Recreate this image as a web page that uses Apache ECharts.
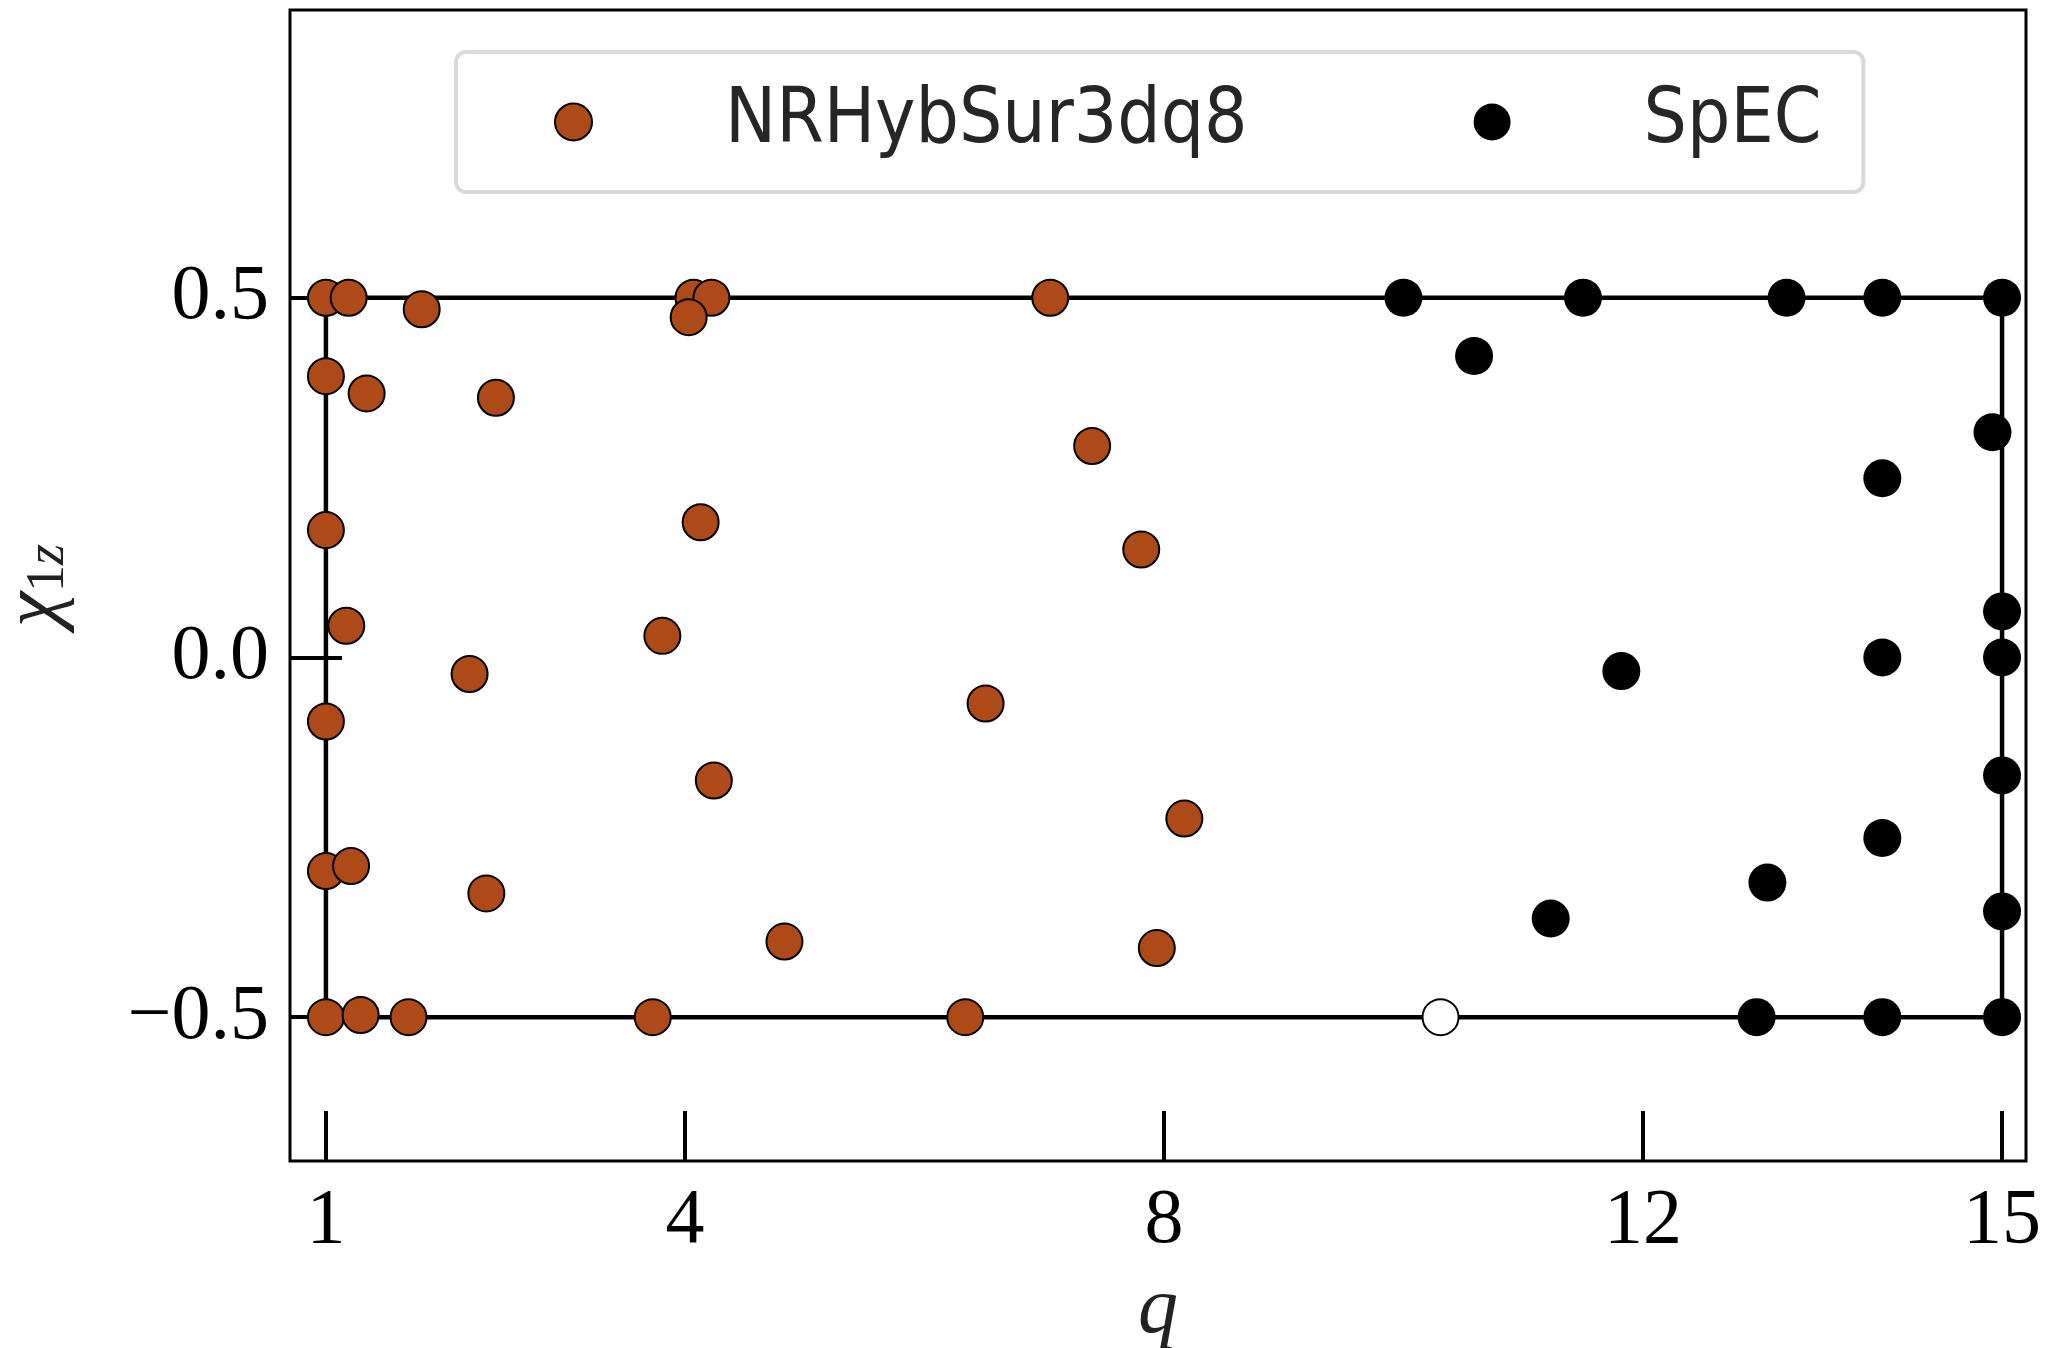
<!DOCTYPE html>
<html>
<head>
<meta charset="utf-8">
<script src="https://cdn.jsdelivr.net/npm/echarts@6/dist/echarts.min.js"></script>
<style>
  html, body { margin: 0; padding: 0; background: #fff; }
  #main { width: 2058px; height: 1348px; }
</style>
</head>
<body>
<div id="main"></div>
<script>
// NRHybSur3dq8 points [q, chi1z]
var nrhybPoints = [
    [1.0, 0.5], [1.19, 0.5], [1.80, 0.484], [1.0, 0.391], [1.34, 0.367], [2.42, 0.361],
    [1.0, 0.177], [1.17, 0.044], [2.20, -0.023], [1.0, -0.089], [1.0, -0.297], [1.21, -0.290],
    [2.34, -0.328], [1.0, -0.5], [1.29, -0.497], [1.69, -0.5],
    [4.07, 0.5], [4.22, 0.5], [4.03, 0.473], [7.05, 0.5], [7.40, 0.294], [4.13, 0.188],
    [7.81, 0.150], [3.81, 0.030], [6.51, -0.064], [4.24, -0.171], [8.17, -0.224],
    [4.83, -0.395], [7.94, -0.404], [3.73, -0.5], [6.34, -0.5]
];
// SpEC points
var specPoints = [
    [10.0, 0.5], [11.5, 0.5], [13.2, 0.5], [14.0, 0.5], [15.0, 0.5], [10.59, 0.419],
    [14.92, 0.313], [14.0, 0.249], [15.0, 0.064], [11.82, -0.019], [14.0, 0.0], [15.0, 0.0],
    [15.0, -0.164], [14.0, -0.251], [13.04, -0.313], [11.23, -0.363], [15.0, -0.353],
    [12.95, -0.5], [14.0, -0.5], [15.0, -0.5]
];
// open (white) point
var openPoints = [[10.31, -0.5]];
// training region boundary
var boundary = [[1, 0.5], [15, 0.5], [15, -0.5], [1, -0.5], [1, 0.5]];

var xTicks = [1, 4, 8, 12, 15];
var yTicks = [-0.5, 0, 0.5];

var myChart = echarts.init(document.getElementById('main'));

var serif = "'Liberation Serif', 'DejaVu Serif', serif";
var sans = "'DejaVu Sans Condensed', 'DejaVu Sans', sans-serif";

option = {
    animation: false,
    backgroundColor: '#fff',
    grid: {
        left: 290, right: 32, top: 10, bottom: 187,
        outerBoundsMode: 'none',
        containLabel: false,
        show: true, borderColor: '#000', borderWidth: 3
    },
    legend: {
        data: ['NRHybSur3dq8', 'SpEC'],
        left: 456,
        top: 52,
        padding: [32, 42, 32, 98],
        itemWidth: 37,
        itemHeight: 37,
        itemGap: 226,
        borderColor: '#d9d9d9',
        borderWidth: 4,
        borderRadius: 10,
        textStyle: {
            fontFamily: sans,
            fontSize: 76,
            color: '#262626',
            padding: [0, 0, 0, 128]
        }
    },
    xAxis: {
        type: 'value',
        min: 0.7,
        max: 15.2,
        name: 'q',
        nameLocation: 'middle',
        nameGap: 110,
        nameTextStyle: { fontFamily: serif, fontStyle: 'italic', fontSize: 80, color: '#222' },
        splitLine: { show: false },
        axisLine: { show: false, onZero: false },
        axisTick: {
            show: true, inside: true, length: 50, customValues: xTicks,
            lineStyle: { color: '#000', width: 4 }
        },
        axisLabel: {
            customValues: xTicks,
            fontFamily: serif, fontSize: 78, color: '#000', margin: 22
        }
    },
    yAxis: {
        type: 'value',
        min: -0.7,
        max: 0.9,
        name: '{c|χ}{s|1}{z|z}',
        nameLocation: 'middle',
        nameRotate: 90,
        nameGap: 214,
        nameTextStyle: {
            color: '#222',
            rich: {
                c: { fontFamily: serif, fontStyle: 'italic', fontSize: 80, color: '#222' },
                s: { fontFamily: serif, fontSize: 54, color: '#222', verticalAlign: 'bottom' },
                z: { fontFamily: serif, fontStyle: 'italic', fontSize: 54, color: '#222', verticalAlign: 'bottom' }
            }
        },
        splitLine: { show: false },
        axisLine: { show: false, onZero: false },
        axisTick: {
            show: true, inside: true, length: 52, customValues: yTicks,
            lineStyle: { color: '#000', width: 4 }
        },
        axisLabel: {
            customValues: yTicks,
            fontFamily: serif, fontSize: 78, color: '#000', margin: 21,
            formatter: function (v) {
                return (v < 0 ? '\u2212' : '') + Math.abs(v).toFixed(1);
            }
        }
    },
    series: [
        {
            name: 'boundary',
            type: 'line',
            data: boundary,
            symbol: 'none',
            z: 1,
            lineStyle: { color: '#000', width: 4.5 }
        },
        {
            name: 'NRHybSur3dq8',
            type: 'scatter',
            data: nrhybPoints,
            symbolSize: 36,
            z: 3,
            itemStyle: { color: '#ad4a17', borderColor: '#000', borderWidth: 2, opacity: 1 }
        },
        {
            name: 'SpEC',
            type: 'scatter',
            data: specPoints,
            symbolSize: 38,
            z: 3,
            itemStyle: { color: '#000', opacity: 1 }
        },
        {
            name: 'open',
            type: 'scatter',
            data: openPoints,
            symbolSize: 36,
            z: 3,
            itemStyle: { color: '#fff', borderColor: '#000', borderWidth: 2, opacity: 1 }
        }
    ]
};

myChart.setOption(option);
</script>
</body>
</html>
